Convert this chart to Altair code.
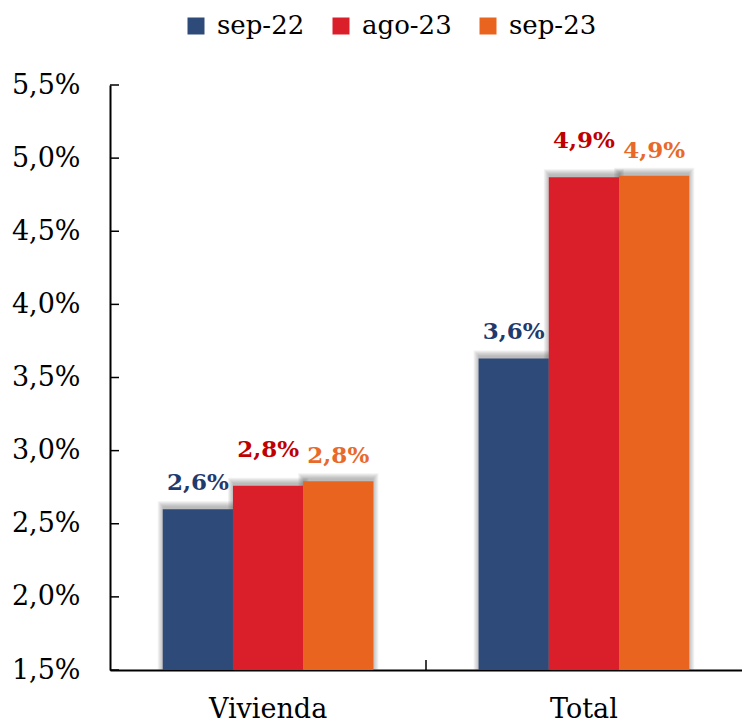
import altair as alt
import pandas as pd

categories = ["Vivienda", "Total"]
series = ["sep-22", "ago-23", "sep-23"]
vivienda = [2.60, 2.76, 2.79]
total = [3.63, 4.87, 4.88]
y_ticks = [1.5, 2.0, 2.5, 3.0, 3.5, 4.0, 4.5, 5.0, 5.5]
bar_colors = ["#2E4A78", "#DA1F2A", "#E9641E"]
label_colors = ["#1F3A6E", "#C00000", "#E8692A"]
label_dy = [-19, -29, -18]

rows = []
for cat, vals in zip(categories, [vivienda, total]):
    for s, v in zip(series, vals):
        rows.append({"categoria": cat, "serie": s, "valor": v,
                     "etiqueta": f"{v:.1f}".replace(".", ",") + "%"})
df = pd.DataFrame(rows)

W, H = 632, 585
FONT = "DejaVu Serif"
LEG_FONT = "'DejaVu Serif', serif"
BAR_W = (W / 2) * (1 - 0.333) / 3

x_enc = alt.X("categoria:N", sort=categories,
              scale=alt.Scale(paddingInner=0.333, paddingOuter=0.167),
              axis=alt.Axis(title=None, labelAngle=0, labelFontSize=27, labelPadding=26,
                            ticks=False, domainColor="black", domainWidth=2,
                            labelFont=FONT, labelColor="black"))
xoff_enc = alt.XOffset("serie:N", sort=series, scale=alt.Scale(paddingInner=0, paddingOuter=0))
y_enc = alt.Y("valor:Q", scale=alt.Scale(domain=[1.5, 5.5], nice=False, zero=False),
              axis=alt.Axis(title=None, values=y_ticks, grid=False, ticks=False,
                            labelExpr="replace(format(datum.value, '.1f'), '.', ',') + '%'",
                            labelFontSize=27, labelFont=FONT, labelColor="black",
                            labelPadding=30, domainColor="black", domainWidth=2))

base = alt.Chart(df)

# soft shadow approximation (stacked translucent grey rectangles)
shadows = []
for k in range(1, 7):
    shadows.append(
        base.mark_bar(clip=True, color="#404040", opacity=0.07,
                      size=BAR_W + 2 * k - 2, xOffset=-1, yOffset=-2 - k).encode(
            x=x_enc, xOffset=xoff_enc, y=y_enc
        )
    )

bars = base.mark_bar(clip=True).encode(
    x=x_enc, xOffset=xoff_enc, y=y_enc,
    color=alt.Color("serie:N", sort=series,
                    scale=alt.Scale(domain=series, range=bar_colors),
                    legend=alt.Legend(title=None, orient="none", legendX=73, legendY=-72,
                                      direction="horizontal", symbolType="square",
                                      symbolSize=289, symbolStrokeWidth=0,
                                      labelFontSize=26, labelFont=LEG_FONT, labelColor="black",
                                      labelOffset=8, columnPadding=23, padding=0)),
)

texts = []
for i, s in enumerate(series):
    texts.append(
        base.transform_filter(alt.datum.serie == s).mark_text(
            font=FONT, fontWeight="bold", fontSize=23, baseline="alphabetic",
            dy=label_dy[i], color=label_colors[i]
        ).encode(x=x_enc, xOffset=xoff_enc, y=y_enc, text="etiqueta:N")
    )

yticks = alt.Chart(pd.DataFrame({"t": y_ticks})).mark_rule(color="black", strokeWidth=1.5).encode(
    y=alt.Y("t:Q"), x=alt.value(0), x2=alt.value(9)
)
xtick = alt.Chart(pd.DataFrame({"a": [0]})).mark_rule(color="black", strokeWidth=1.5).encode(
    x=alt.value(W / 2), y=alt.value(H - 10), y2=alt.value(H)
)

chart = alt.layer(*shadows, bars, *texts, yticks, xtick).properties(
    width=W, height=H, padding={"left": 3, "right": 0, "top": 5, "bottom": 0}
).configure(font=FONT).configure_view(stroke=None).configure_legend(
    labelFont=LEG_FONT, labelFontSize=26
)

chart.save("out.html", embed_options={"renderer": "svg", "actions": False})
